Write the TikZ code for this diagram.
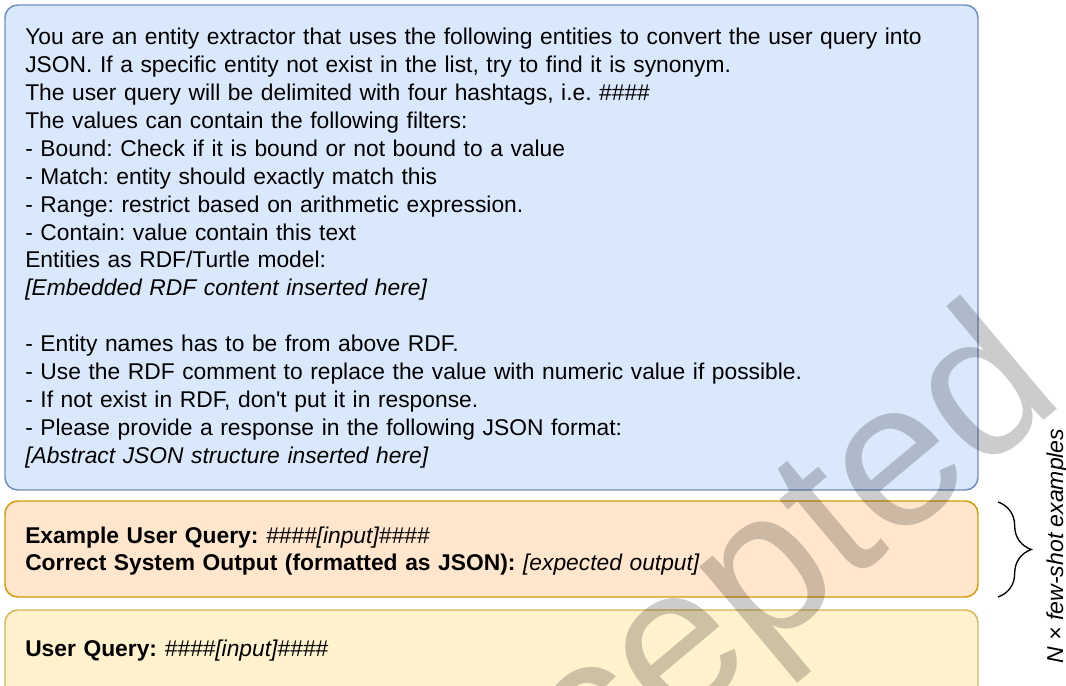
\documentclass[tikz,border=0pt]{standalone}
\usepackage{fontspec}
\setmainfont{Liberation Sans}
\usepackage{xcolor}
\usetikzlibrary{decorations.pathreplacing}
\definecolor{sysfill}{HTML}{DAE8FC}
\definecolor{sysline}{HTML}{6C8EBF}
\definecolor{exfill}{HTML}{FFE6CC}
\definecolor{exline}{HTML}{D79B00}
\definecolor{qfill}{HTML}{FFF2CC}
\definecolor{qline}{HTML}{D6B656}
\tikzset{pbox/.style={rectangle,rounded corners=9.5pt,line width=1.1pt,inner sep=0pt,minimum width=729.75pt}}
\tikzset{ptxt/.style={anchor=base west,align=left,inner sep=0pt,text width=690pt,font=\fontsize{17.1}{20.9}\selectfont\frenchspacing}}

\begin{document}
\begin{tikzpicture}[x=0.75pt,y=-0.75pt]
    \useasboundingbox (0,0) rectangle (1066,685);

    \node[pbox,fill=sysfill,draw=sysline,minimum height=363.75pt] (sys) at (491.5,247.5) {};
    \node[pbox,fill=exfill,draw=exline,minimum height=72pt] (ex) at (491.5,549) {};
    \node[pbox,fill=qfill,draw=qline,minimum height=67.5pt] (q) at (491.5,655) {};

    \node[ptxt] (systxt) at (25,45) {You are an entity extractor that uses the following entities to convert the user query into\\
        JSON. If a specific entity not exist in the list, try to find it is synonym.\\
        The user query will be delimited with four hashtags, i.e. \#\#\#\#\\
        The values can contain the following filters:\\
        - Bound: Check if it is bound or not bound to a value\\
        - Match: entity should exactly match this\\
        - Range: restrict based on arithmetic expression.\\
        - Contain: value contain this text\\
        Entities as RDF/Turtle model:\\
        \textit{[Embedded RDF content inserted here]}\\
        ~\\
        - Entity names has to be from above RDF.\\
        - Use the RDF comment to replace the value with numeric value if possible.\\
        - If not exist in RDF, don\textquotesingle t put it in response.\\
        - Please provide a response in the following JSON format:\\
        \textit{[Abstract JSON structure inserted here]}};
    \node[ptxt] (extxt) at (25,543) {\textbf{Example User Query:} \textit{\#\#\#\#[input]\#\#\#\#}\\
        \textbf{Correct System Output (formatted as JSON):} \textit{[expected output]}};
    \node[ptxt] (qtxt) at (25,656) {\textbf{User Query:} \textit{\#\#\#\#[input]\#\#\#\#}};

    % few-shot brace
    \coordinate (bt) at (998,502);
    \coordinate (bb) at (998,597);
    \draw[decorate,decoration={brace,amplitude=25pt},line width=1pt] (bt) -- (bb);
    \node[rotate=90,anchor=base,inner sep=0pt,font=\fontsize{17.25}{20.9}\selectfont\itshape] (nlab) at (1063,546) {N × few-shot examples};

    % watermark
    \node[rotate=40,anchor=base,inner sep=0pt,text=black,opacity=0.2,font=\fontsize{155}{155}\selectfont] (mark) at (738,678) {Accepted};
\end{tikzpicture}
\end{document}
